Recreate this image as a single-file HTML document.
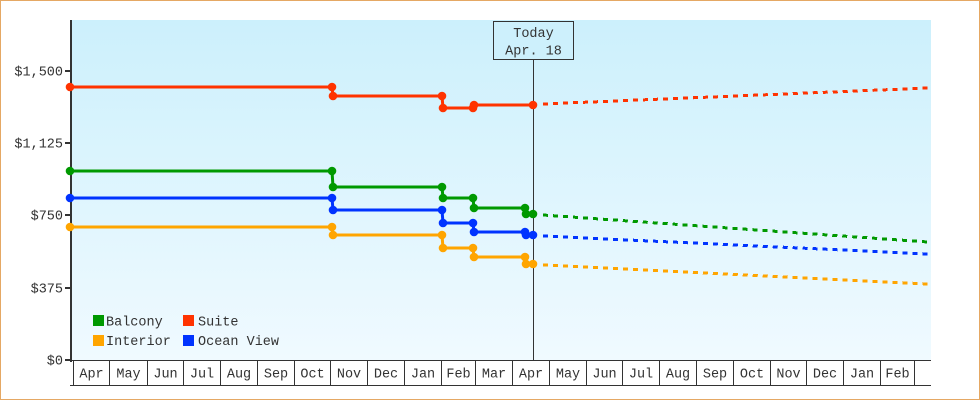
<!DOCTYPE html>
<html><head><meta charset="utf-8"><style>
html,body{margin:0;padding:0;background:#fff;}
svg{display:block;}
text{font-family:"Liberation Mono","DejaVu Sans Mono",monospace;font-size:13.5px;fill:#333;}
</style></head><body>
<svg width="980" height="400" viewBox="0 0 980 400" xmlns="http://www.w3.org/2000/svg">
<defs>
<linearGradient id="bg" x1="0" y1="0" x2="0" y2="1">
<stop offset="0" stop-color="#ccf0fc"/>
<stop offset="1" stop-color="#f0faff"/>
</linearGradient>
</defs>
<rect x="0.5" y="0.5" width="979" height="399" fill="#fff" stroke="#e5a864" stroke-width="1"/>
<rect x="72" y="20" width="859" height="340" fill="url(#bg)"/>

<!-- month boxes -->
<g shape-rendering="crispEdges" stroke="#333" stroke-width="1" fill="none">
<line x1="71" y1="360.5" x2="931" y2="360.5"/>
<line x1="70" y1="385.5" x2="931" y2="385.5"/>
<line x1="73.5" y1="360" x2="73.5" y2="385"/>
<line x1="109.5" y1="360" x2="109.5" y2="385"/>
<line x1="147.5" y1="360" x2="147.5" y2="385"/>
<line x1="183.5" y1="360" x2="183.5" y2="385"/>
<line x1="220.5" y1="360" x2="220.5" y2="385"/>
<line x1="257.5" y1="360" x2="257.5" y2="385"/>
<line x1="294.5" y1="360" x2="294.5" y2="385"/>
<line x1="330.5" y1="360" x2="330.5" y2="385"/>
<line x1="367.5" y1="360" x2="367.5" y2="385"/>
<line x1="404.5" y1="360" x2="404.5" y2="385"/>
<line x1="441.5" y1="360" x2="441.5" y2="385"/>
<line x1="475.5" y1="360" x2="475.5" y2="385"/>
<line x1="512.5" y1="360" x2="512.5" y2="385"/>
<line x1="549.5" y1="360" x2="549.5" y2="385"/>
<line x1="586.5" y1="360" x2="586.5" y2="385"/>
<line x1="622.5" y1="360" x2="622.5" y2="385"/>
<line x1="659.5" y1="360" x2="659.5" y2="385"/>
<line x1="696.5" y1="360" x2="696.5" y2="385"/>
<line x1="733.5" y1="360" x2="733.5" y2="385"/>
<line x1="770.5" y1="360" x2="770.5" y2="385"/>
<line x1="806.5" y1="360" x2="806.5" y2="385"/>
<line x1="843.5" y1="360" x2="843.5" y2="385"/>
<line x1="880.5" y1="360" x2="880.5" y2="385"/>
<line x1="914.5" y1="360" x2="914.5" y2="385"/>
</g>
<g text-anchor="middle">
<text x="91.5" y="377.5">Apr</text>
<text x="128.5" y="377.5">May</text>
<text x="165.5" y="377.5">Jun</text>
<text x="202" y="377.5">Jul</text>
<text x="239" y="377.5">Aug</text>
<text x="276" y="377.5">Sep</text>
<text x="312.5" y="377.5">Oct</text>
<text x="349" y="377.5">Nov</text>
<text x="386" y="377.5">Dec</text>
<text x="423" y="377.5">Jan</text>
<text x="458.5" y="377.5">Feb</text>
<text x="494" y="377.5">Mar</text>
<text x="531" y="377.5">Apr</text>
<text x="568" y="377.5">May</text>
<text x="604.5" y="377.5">Jun</text>
<text x="641" y="377.5">Jul</text>
<text x="678" y="377.5">Aug</text>
<text x="715" y="377.5">Sep</text>
<text x="752" y="377.5">Oct</text>
<text x="788.5" y="377.5">Nov</text>
<text x="825" y="377.5">Dec</text>
<text x="862" y="377.5">Jan</text>
<text x="897.5" y="377.5">Feb</text>
</g>

<!-- y axis -->
<g shape-rendering="crispEdges" fill="#333">
<rect x="70" y="20" width="2" height="342"/>
<rect x="65" y="70" width="6" height="2"/>
<rect x="65" y="142" width="6" height="2"/>
<rect x="65" y="214" width="6" height="2"/>
<rect x="65" y="287" width="6" height="2"/>
<rect x="65" y="359" width="6" height="2"/>
</g>
<g text-anchor="end">
<text x="63" y="75.5">$1,500</text>
<text x="63" y="147.5">$1,125</text>
<text x="63" y="219.5">$750</text>
<text x="63" y="292.5">$375</text>
<text x="63" y="364.5">$0</text>
</g>

<!-- today -->
<line x1="533.5" y1="60" x2="533.5" y2="360" stroke="#333" stroke-width="1" shape-rendering="crispEdges"/>
<rect x="493.5" y="21.5" width="80" height="38" fill="#cdf0fc" stroke="#333" stroke-width="1" shape-rendering="crispEdges"/>
<text x="533.5" y="37" text-anchor="middle">Today</text>
<text x="533.5" y="54.5" text-anchor="middle">Apr. 18</text>

<!-- series lines -->
<g fill="none" stroke-width="3" stroke-linejoin="miter">
<polyline stroke="#ff3300" points="70,87 332,87 333,96 442,96 443,108 473,108 474,105 533,105"/>
<polyline stroke="#009900" points="70,171 332,171 333,187 442,187 443,198 473,198 474,208 525,208 526,214 533,214"/>
<polyline stroke="#0033ff" points="70,198 332,198 333,210 442,210 443,223 473,223 474,232 525,232 526,235 533,235"/>
<polyline stroke="#ffa500" points="70,227 332,227 333,235 442,235 443,248 473,248 474,257 525,257 526,264 533,264"/>
</g>
<g fill="none" stroke-width="3" stroke-dasharray="5 5" shape-rendering="crispEdges">
<line stroke="#ff3300" x1="543" y1="104" x2="928" y2="88"/>
<line stroke="#009900" x1="543" y1="215" x2="928" y2="242"/>
<line stroke="#0033ff" x1="543" y1="236" x2="928" y2="254"/>
<line stroke="#ffa500" x1="543" y1="265" x2="928" y2="284"/>
</g>

<!-- markers -->
<g fill="#ff3300">
<circle cx="70" cy="87" r="4.3"/><circle cx="332" cy="87" r="4.3"/><circle cx="333" cy="96" r="4.3"/>
<circle cx="442" cy="96" r="4.3"/><circle cx="443" cy="108" r="4.3"/><circle cx="473" cy="108" r="4.3"/>
<circle cx="474" cy="105" r="4.3"/><circle cx="533" cy="105" r="4.3"/>
</g>
<g fill="#009900">
<circle cx="70" cy="171" r="4.3"/><circle cx="332" cy="171" r="4.3"/><circle cx="333" cy="187" r="4.3"/>
<circle cx="442" cy="187" r="4.3"/><circle cx="443" cy="198" r="4.3"/><circle cx="473" cy="198" r="4.3"/>
<circle cx="474" cy="208" r="4.3"/><circle cx="525" cy="208" r="4.3"/><circle cx="526" cy="214" r="4.3"/>
<circle cx="533" cy="214" r="4.3"/>
</g>
<g fill="#0033ff">
<circle cx="70" cy="198" r="4.3"/><circle cx="332" cy="198" r="4.3"/><circle cx="333" cy="210" r="4.3"/>
<circle cx="442" cy="210" r="4.3"/><circle cx="443" cy="223" r="4.3"/><circle cx="473" cy="223" r="4.3"/>
<circle cx="474" cy="232" r="4.3"/><circle cx="525" cy="232" r="4.3"/><circle cx="526" cy="235" r="4.3"/>
<circle cx="533" cy="235" r="4.3"/>
</g>
<g fill="#ffa500">
<circle cx="70" cy="227" r="4.3"/><circle cx="332" cy="227" r="4.3"/><circle cx="333" cy="235" r="4.3"/>
<circle cx="442" cy="235" r="4.3"/><circle cx="443" cy="248" r="4.3"/><circle cx="473" cy="248" r="4.3"/>
<circle cx="474" cy="257" r="4.3"/><circle cx="525" cy="257" r="4.3"/><circle cx="526" cy="264" r="4.3"/>
<circle cx="533" cy="264" r="4.3"/>
</g>

<!-- legend -->
<g shape-rendering="crispEdges">
<rect x="93" y="315" width="11" height="11" fill="#009900"/>
<rect x="93" y="335" width="11" height="11" fill="#ffa500"/>
<rect x="183" y="315" width="11" height="11" fill="#ff3300"/>
<rect x="183" y="335" width="11" height="11" fill="#0033ff"/>
</g>
<text x="106" y="325.5">Balcony</text>
<text x="106" y="345">Interior</text>
<text x="198" y="325.5">Suite</text>
<text x="198" y="345">Ocean View</text>
</svg>
</body></html>
